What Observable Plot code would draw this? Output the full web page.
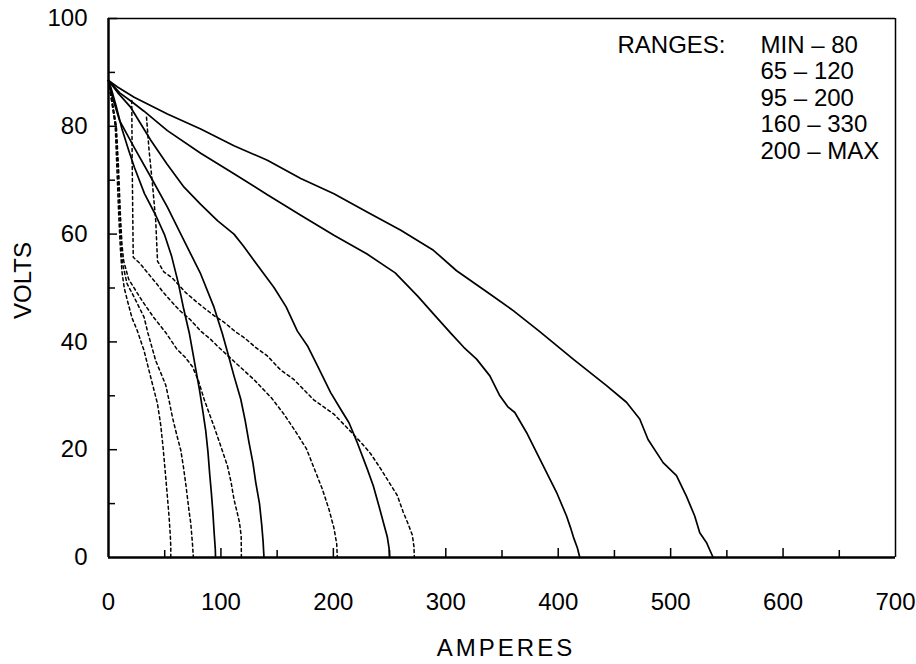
<!DOCTYPE html>
<html>
<head>
<meta charset="utf-8">
<script src="https://cdn.jsdelivr.net/npm/d3@7"></script>
<script src="https://cdn.jsdelivr.net/npm/@observablehq/plot@0.6"></script>
<style>
  html, body { margin: 0; padding: 0; background: #fff; }
</style>
</head>
<body>
<div id="chart"></div>
<script>
// ---- tick values ----
const xTicks = [0, 100, 200, 300, 400, 500, 600, 700];
const yTicks = [0, 20, 40, 60, 80, 100];
const xMajorTicks = [100, 200, 300, 400, 500, 600];
const xMinorTicks = [50, 150, 250, 350, 450, 550, 650];
const yMajorTicks = [20, 40, 60, 80, 100];
const yMinorTicks = [10, 30, 50, 70, 90];

// ---- texts ----
const xTitle = "AMPERES";
const yTitle = "VOLTS";
const rangesTitle = "RANGES:";
const rangeLabels = ["MIN – 80", "65 – 120", "95 – 200", "160 – 330", "200 – MAX"];

// ---- maximum-setting curves (solid), [amperes, volts] ----
const maxMinTo80 = [[0,88.5],[2,87.3],[6.5,84],[12,79.5],[18,75.5],[23,72.4],[32,67.5],[42,63.5],[50,59.8],[56,56],[62,51],[67,46],[72,41.5],[75,38],[78,34.5],[81,31],[84,27],[86.5,23.5],[88.5,19.5],[90,15.5],[91.5,12],[92.8,8.5],[94,4.5],[95,1.5],[95.2,0]];
const max65To120 = [[0,88.5],[4,85],[10,81],[22.8,76.1],[37.6,70.6],[52.4,65],[67.2,58.8],[82,52.6],[93.9,46.4],[101.3,41.5],[106,38],[111.6,33.7],[117.6,29.4],[121.5,25.5],[125,21.3],[128.5,17.5],[131,13.9],[134.3,10],[136.3,6],[137.5,3],[138.3,0]];
const max95To200 = [[0,88.5],[8,86.3],[19.8,83.5],[37.6,77.4],[52,73],[67.2,68.7],[82,65.5],[96.9,62.5],[111.6,60],[120,57.8],[129.4,55.1],[147.2,50.1],[158,46.5],[168,42],[176.9,39.3],[185.8,35.6],[197.6,30.6],[206.5,27.5],[213.9,25],[221.3,21.3],[230.2,16.4],[235.5,13.3],[240.5,9.6],[244.5,6.5],[248,3.8],[249.5,1.8],[250,0]];
const max160To330 = [[0,88.5],[10,86.2],[21,84.5],[31.6,82.8],[52.4,79.2],[82,75],[111.6,71.2],[141.3,67.3],[171,63.5],[200.5,59.8],[230,56.3],[255,52.8],[275,48.5],[292,44.5],[305,41.5],[316,39],[327.4,36.8],[339.2,33.7],[348.1,30],[355,28],[361.4,26.9],[371.8,23.2],[386.7,17],[398.5,12.1],[407.4,7.7],[411,5.5],[414,3.5],[417,1.8],[419.2,0]];
const max200ToMax = [[0,88.5],[8,87.3],[22.8,85.4],[52.4,82.3],[82,79.5],[111.6,76.4],[141.3,73.7],[171,70.3],[200.5,67.5],[230,64.1],[260,60.7],[289,57],[309.6,53.2],[339.2,48.9],[360,45.8],[383.6,41.9],[413.3,36.8],[443,31.9],[460.7,28.8],[472.5,25.7],[479.9,21.9],[493.3,17.6],[505.2,15.2],[514,11.4],[521.4,7.7],[525.9,4.6],[531.8,2.8],[537.8,0]];

// ---- minimum-setting curves (dotted), [amperes, volts] ----
const minMinTo80 = [[0,88.5],[3,84.5],[6,80],[7.5,72],[9,64],[10.5,57.5],[12,53],[14,50],[17,47.5],[21,44.4],[25.4,42.2],[31.6,38.4],[37.6,33.4],[43.6,28.5],[46.5,24.5],[48.5,20.5],[50.9,14.9],[52.5,11],[53.9,7.5],[55,4],[55.4,2],[55.4,0]];
const min65To120 = [[0,88.5],[3,84.5],[6.5,80],[8.5,72],[10,64],[11.5,57],[12.5,54.5],[16.5,50.8],[22.8,48.3],[31.6,44.6],[35,41.7],[42,36.5],[47,34],[50.9,32],[54,29],[56.9,26],[61,22.5],[64.3,19.9],[66.5,17],[68.7,13.7],[71.6,8.7],[73.2,6.3],[74.7,2.5],[75.5,0]];
const min95To200 = [[0,88.5],[3.5,84.5],[7,80],[9,72],[10.5,64],[12,58],[13.5,55],[18,51.6],[30,47.6],[40,44.6],[51,41.7],[61,38.6],[68,37.2],[74.7,35.4],[80,32.8],[85,29.4],[90,26.5],[93.9,24.3],[99.8,20.7],[105.8,17],[109,14],[111.6,10.8],[114.5,8.3],[116.5,6.5],[118,4],[118.2,0]];
const min160To330 = [[20.7,84.8],[21,75],[21.5,65],[22,55.7],[27.8,54.6],[32.9,53.3],[38,52],[43.2,50.7],[48.3,49.3],[54.2,47.9],[63.4,45.8],[72.9,44.1],[82,42],[90.7,40.5],[98,39],[111.6,36.4],[129.4,33],[145,29.6],[156,26.6],[166,23.5],[176,20.2],[183,16.5],[190,12.8],[196,9],[200.5,5.5],[203,2.5],[203.5,0]];
const min200ToMax = [[33.8,81.7],[36.1,75.5],[39.1,69.3],[42,62.5],[43.6,55],[49.2,53],[56.6,51.9],[68.4,49.2],[77.3,47.6],[86.2,46.1],[95.1,44.7],[102.5,43.7],[112.9,41.9],[121.8,40.6],[130.7,39],[141.3,37.4],[153,34.8],[165,33],[182.8,29.2],[200.5,26.6],[213,23.9],[224.3,21.4],[233,19.3],[242,16.5],[250,13.8],[256.9,11.5],[262,8.5],[266,6.5],[270.2,4.2],[271.7,2],[272,0]];

const maxCurves = [maxMinTo80, max65To120, max95To200, max160To330, max200ToMax];
const minCurves = [minMinTo80, min65To120, min95To200, min160To330, min200ToMax];

const maxRows = [];
maxCurves.forEach((c, i) => c.forEach(([a, v]) => maxRows.push({amps: a, volts: v, curve: rangeLabels[i]})));
const minRows = [];
minCurves.forEach((c, i) => c.forEach(([a, v]) => minRows.push({amps: a, volts: v, curve: rangeLabels[i]})));

// ---- layout ----
const W = 916, H = 664, ML = 108, MR = 21, MT = 18, MB = 107;
const FW = W - ML - MR, FH = H - MT - MB;

const chart = Plot.plot({
  width: W, height: H,
  marginLeft: ML, marginRight: MR, marginTop: MT, marginBottom: MB,
  x: {domain: [0, 700]},
  y: {domain: [0, 100]},
  style: {fontFamily: "'Liberation Sans', Arial, Helvetica, sans-serif", fontSize: "24px", color: "black", background: "white"},
  marks: [
    Plot.line(maxRows, {x: "amps", y: "volts", z: "curve", stroke: "black", strokeWidth: 1.7}),
    Plot.line(minRows, {x: "amps", y: "volts", z: "curve", stroke: "black", strokeWidth: 1.5, strokeDasharray: "3,3"}),
    Plot.ruleX(xMajorTicks, {x: d => d, insetTop: FH - 9, strokeWidth: 1.5}),
    Plot.ruleX(xMinorTicks, {x: d => d, insetTop: FH - 7, strokeWidth: 1.5}),
    Plot.ruleY(yMajorTicks, {y: d => d, insetRight: FW - 9, strokeWidth: 1.5}),
    Plot.ruleY(yMinorTicks, {y: d => d, insetRight: FW - 7, strokeWidth: 1.5}),
    Plot.ruleY([100], {strokeWidth: 1.5}),
    Plot.ruleX([700], {strokeWidth: 1.5}),
    Plot.ruleX([0], {strokeWidth: 2.5}),
    Plot.ruleY([0], {strokeWidth: 2.5}),
    Plot.axisX({ticks: xTicks, tickSize: 0, tickPadding: 35, label: null, tickFormat: d => String(d)}),
    Plot.axisY({ticks: yTicks, tickSize: 0, tickPadding: 21, label: null, tickFormat: d => String(d)}),
    Plot.text([xTitle], {text: d => d, frameAnchor: "bottom", dx: 4, dy: 91, lineAnchor: "middle", textAnchor: "middle"}),
    Plot.text([yTitle], {text: d => d, frameAnchor: "left", dx: -85.5, dy: -7.5, rotate: -90, lineAnchor: "middle", textAnchor: "middle"}),
    Plot.text([rangesTitle], {text: d => d, frameAnchor: "top-left", dx: 509, dy: 17.3, textAnchor: "start", lineAnchor: "top"}),
    Plot.text([rangeLabels.join("\n")], {text: d => d, frameAnchor: "top-left", dx: 652, dy: 15.5, textAnchor: "start", lineAnchor: "top", lineHeight: 1.104})
  ]
});

chart.querySelectorAll("text").forEach(t => {
  if (t.textContent === xTitle) t.setAttribute("letter-spacing", "3");
});

document.getElementById("chart").appendChild(chart);
</script>
</body>
</html>
